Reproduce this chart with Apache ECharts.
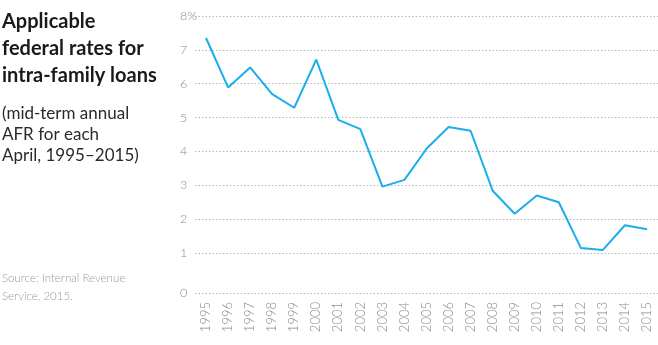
<!DOCTYPE html>
<html>
<head>
<meta charset="utf-8">
<script src="https://cdn.jsdelivr.net/npm/echarts@6/dist/echarts.min.js"></script>
<style>
html,body{margin:0;padding:0;background:#fff;}
#c{width:658px;height:345px;}
</style>
</head>
<body>
<div id="c"></div>
<script>
const years = ['1995','1996','1997','1998','1999','2000','2001','2002','2003','2004','2005','2006','2007','2008','2009','2010','2011','2012','2013','2014','2015'];
const afrRates = [7.35,5.89,6.48,5.69,5.29,6.71,4.93,4.66,2.96,3.16,4.08,4.72,4.61,2.84,2.16,2.70,2.50,1.15,1.09,1.82,1.70];
const yTickValues = [0,1,2,3,4,5,6,7,8];
const yTickLabels = ['0','1','2','3','4','5','6','7','8%'];
const titleLines = ['Applicable','federal rates for','intra-family loans'];
const subtitleLines = ['(mid-term annual','AFR for each','April, 1995\u20132015)'];
const sourceLines = ['Source: Internal Revenue','Service, 2015.'];

// the zero gridline sits lower than a linear scale would put it (broken axis look)
const ZERO_POS = 1 - 40/33.85;
const tickPos = yTickValues.map(v => v === 0 ? ZERO_POS : v);
function labelFor(v){
  let best = 0, bd = Infinity;
  tickPos.forEach((p,i)=>{ const d = Math.abs(p - v); if (d < bd){bd = d; best = i;} });
  return yTickLabels[best];
}

const chart = echarts.init(document.getElementById('c'), null, {renderer:'canvas'});
const FONT = 'Lato';
chart.setOption({
  animation: false,
  backgroundColor: '#ffffff',
  grid: {left: 195, right: 0, top: 16, bottom: 345 - 293, containLabel: false},
  xAxis: {
    type: 'category',
    data: years,
    boundaryGap: true,
    axisLine: {show: false},
    axisTick: {show: false},
    splitLine: {show: false},
    axisLabel: {rotate: 90, margin: 9, color: '#8a8a8a', fontSize: 13, fontFamily: FONT, fontWeight: 300, interval: 0}
  },
  yAxis: {
    type: 'value',
    min: ZERO_POS,
    max: 8,
    axisLine: {show: false},
    axisTick: {show: false, customValues: tickPos},
    axisLabel: {
      customValues: tickPos,
      align: 'left', margin: 15,
      color: '#8a8a8a', fontSize: 12.5, fontFamily: FONT, fontWeight: 300,
      formatter: v => labelFor(v)
    },
    splitLine: {show: true, lineStyle: {color: '#b8b8b8', type: [1.5, 2], width: 1}}
  },
  series: [{
    type: 'line',
    data: afrRates,
    symbol: 'none',
    lineStyle: {color: '#1aaeeb', width: 2},
    itemStyle: {color: '#1aaeeb'}
  }],
  graphic: [
    {type: 'text', left: 2, top: 8, style: {text: titleLines.join('\n'), font: 'bold 20px ' + FONT, fill: '#1a1a1a', lineHeight: 27}},
    {type: 'text', left: 2, top: 103, style: {text: subtitleLines.join('\n'), font: '400 17px ' + FONT, fill: '#2a2a2a', lineHeight: 21}},
    {type: 'text', left: 2, top: 269, style: {text: sourceLines.join('\n'), font: '300 11.5px ' + FONT, fill: '#9a9a9a', lineHeight: 18}}
  ]
});
</script>
</body>
</html>
